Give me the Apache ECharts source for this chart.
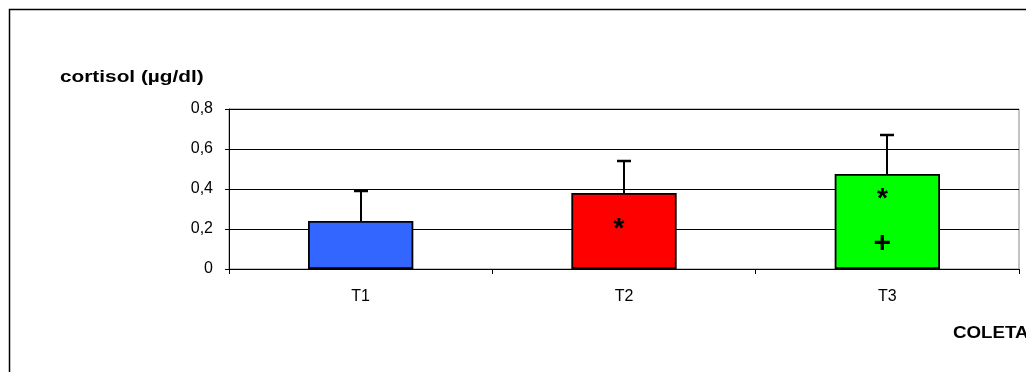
<!DOCTYPE html>
<html>
<head>
<meta charset="utf-8">
<script src="https://cdn.jsdelivr.net/npm/echarts@6/dist/echarts.min.js"></script>
<style>
  html, body { margin: 0; padding: 0; background: #fff; }
  #main { width: 1026px; height: 372px; }
</style>
</head>
<body>
<div id="main"></div>
<script>
// dados do gráfico
var categorias = ['T1', 'T2', 'T3'];
var medias = [0.24, 0.38, 0.475];      // cortisol médio
var desvios = [0.15, 0.16, 0.195];     // desvio (barra de erro, só para cima)
var cores = ['#3366FF', '#FF0000', '#00FF00'];
var yTicks = [0, 0.2, 0.4, 0.6, 0.8];
// marcas de significância: [categoria, valor, símbolo]
var marcas = [[1, 0.23, '*'], [2, 0.38, '*'], [2, 0.125, '+']];

var myChart = echarts.init(document.getElementById('main'));
var FONTE = '"Liberation Sans", Arial, sans-serif';

var option = {
  animation: false,
  backgroundColor: '#fff',
  grid: {
    left: 229, top: 109, width: 790, height: 160,
    show: true, borderColor: '#888', borderWidth: 1, backgroundColor: 'transparent'
  },
  graphic: [
    { type: 'rect', z: -10, shape: { x: 9.5, y: 9.5, width: 1100, height: 420 },
      style: { fill: 'none', stroke: '#000', lineWidth: 1.5 } },
    // o excel estica o texto na horizontal
    { type: 'text', x: 60, y: 78, scaleX: 1.3,
      style: { text: 'cortisol (µg/dl)', font: 'bold 16px ' + FONTE, fill: '#000', verticalAlign: 'middle' } },
    { type: 'text', x: 953, y: 334, scaleX: 1.17,
      style: { text: 'COLETA', font: 'bold 16px ' + FONTE, fill: '#000', verticalAlign: 'middle' } }
  ],
  xAxis: {
    type: 'category',
    data: categorias,
    boundaryGap: true,
    axisLine: { lineStyle: { color: '#000', width: 1 } },
    axisTick: { show: true, length: 5, lineStyle: { color: '#000' } },
    axisLabel: { color: '#000', fontSize: 16, fontFamily: FONTE, margin: 20 }
  },
  yAxis: {
    type: 'value',
    min: yTicks[0], max: yTicks[yTicks.length - 1], interval: 0.2,
    axisLine: { show: true, lineStyle: { color: '#000', width: 1 } },
    axisTick: { show: true, length: 4, lineStyle: { color: '#000' } },
    axisLabel: {
      color: '#000', fontSize: 16, fontFamily: FONTE, margin: 16,
      formatter: function (v) { return String(Math.round(v * 10) / 10).replace('.', ','); }
    },
    splitLine: { show: true, lineStyle: { color: '#000', width: 1 } }
  },
  series: [
    {
      type: 'bar',
      barWidth: '40%',
      data: medias.map(function (v, i) {
        return { value: v, itemStyle: { color: cores[i] } };
      }),
      itemStyle: { borderColor: '#000', borderWidth: 1.8 },
      z: 2
    },
    {
      // barras de erro
      type: 'custom',
      z: 3,
      data: medias.map(function (v, i) { return [i, v, v + desvios[i]]; }),
      renderItem: function (params, api) {
        var base = api.coord([api.value(0), api.value(1)]);
        var topo = api.coord([api.value(0), api.value(2)]);
        var x = Math.round(base[0]);
        return {
          type: 'group',
          children: [
            { type: 'line', shape: { x1: x, y1: base[1], x2: x, y2: topo[1] },
              style: { stroke: '#000', lineWidth: 2 } },
            { type: 'line', shape: { x1: x - 7, y1: topo[1], x2: x + 7, y2: topo[1] },
              style: { stroke: '#000', lineWidth: 2.5 } }
          ]
        };
      }
    },
    {
      // asteriscos e cruzes
      type: 'custom',
      z: 4,
      data: marcas,
      renderItem: function (params, api) {
        var p = api.coord([api.value(0), api.value(1)]);
        var s = marcas[params.dataIndex][2];
        var estrela = s === '*';
        return {
          type: 'text',
          x: p[0] - 5, y: p[1] + (estrela ? 6 : 0),
          style: {
            text: s,
            font: 'bold ' + (estrela ? 28 : 30) + 'px ' + FONTE,
            fill: '#000', align: 'center', verticalAlign: 'middle'
          }
        };
      }
    }
  ]
};
myChart.setOption(option);
</script>
</body>
</html>
